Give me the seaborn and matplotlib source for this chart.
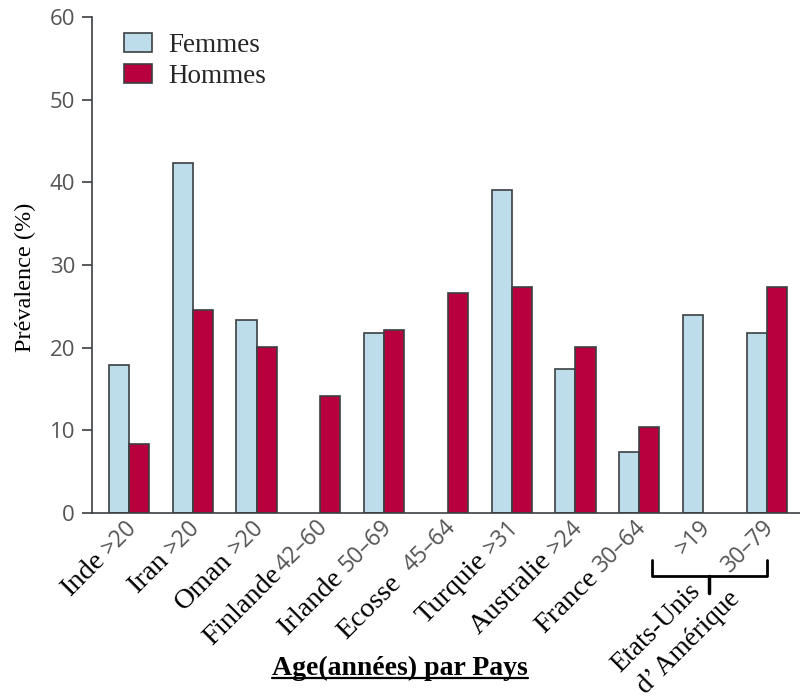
import numpy as np
import pandas as pd
import matplotlib
matplotlib.use("Agg")
import matplotlib.pyplot as plt
import seaborn as sns
from matplotlib.lines import Line2D
from matplotlib.patches import Patch

# ---------------- data ----------------
categories = ['Inde', 'Iran', 'Oman', 'Finlande', 'Irlande', 'Ecosse',
              'Turquie', 'Australie', 'France', 'USA_1', 'USA_2']
country_labels = ['Inde', 'Iran', 'Oman', 'Finlande', 'Irlande', 'Ecosse',
                  'Turquie', 'Australie', 'France', '', '']
age_labels = ['>20', '>20', '>20', '42–60', '50–69', '45–64',
              '>31', '>24', '30–64', '>19', '30–79']
femmes = [17.9, 42.3, 23.3, np.nan, 21.8, np.nan, 39.1, 17.4, 7.4, 24.0, 21.8]
hommes = [8.4, 24.6, 20.1, 14.2, 22.2, 26.6, 27.4, 20.1, 10.4, np.nan, 27.4]
series_names = ['Femmes', 'Hommes']
us_label = ['Etats-Unis', 'd\u2019 Amérique']
y_ticks = [0, 10, 20, 30, 40, 50, 60]
y_title = 'Prévalence (%)'
x_title = 'Age(années) par Pays'

# ---------------- style ----------------
C_F = '#BEDDEB'
C_H = '#B7003D'
EDGE = '#3B3F42'
GRAY = '#555555'
SERIF = 'Liberation Serif'
SANS = ['Liberation Sans Narrow', 'Open Sans', 'DejaVu Sans']

sns.set_theme(style='white')
plt.rcParams['font.family'] = ['DejaVu Sans']

df = pd.DataFrame({
    'cat': categories * 2,
    'val': femmes + hommes,
    'sexe': [series_names[0]] * len(categories) + [series_names[1]] * len(categories),
})

W, H, DPI = 8.0, 6.98, 100
fig = plt.figure(figsize=(W, H), dpi=DPI)
ax = fig.add_axes([0.1146, 0.265, 1.0 - 0.1146, 0.9756 - 0.265])

sns.barplot(data=df, x='cat', y='val', hue='sexe', order=categories,
            hue_order=series_names, palette=[C_F, C_H], width=0.63,
            edgecolor=EDGE, linewidth=1.2, saturation=1, ax=ax, legend=False,
            errorbar=None)

ax.set_xlim(-0.585, 10.52)
ax.set_ylim(0, 60)
ax.set_yticks(y_ticks)
ax.set_yticklabels([str(t) for t in y_ticks], fontfamily=SANS, fontsize=16, color=GRAY)
ax.tick_params(axis='y', which='both', left=True, direction='out', length=7,
               width=1.2, color=EDGE, pad=5)
ax.set_xticks([])
ax.set_xlabel('')
ax.set_ylabel(y_title, fontfamily=SERIF, fontsize=17.5, color='black')
ax.yaxis.set_label_coords(-0.079, 0.475)
for s in ['top', 'right']:
    ax.spines[s].set_visible(False)
for s in ['left', 'bottom']:
    ax.spines[s].set_color(EDGE)
    ax.spines[s].set_linewidth(1.2)

# legend
handles = [Patch(facecolor=C_F, edgecolor=EDGE, linewidth=1.2),
           Patch(facecolor=C_H, edgecolor=EDGE, linewidth=1.2)]
ax.legend(handles, series_names, loc='upper left', bbox_to_anchor=(0.03, 0.99),
          frameon=False, prop={'family': SERIF, 'size': 19.5},
          handlelength=1.05, handleheight=0.68, handletextpad=0.6,
          labelspacing=0.22, borderaxespad=0)

# ---------------- x labels (mixed fonts, rotated) ----------------
fig.canvas.draw()
r = fig.canvas.get_renderer()
c45 = np.cos(np.radians(45))
gaps = [6, 6, 6, 2, 6, 14, 6, 6, 6, 6, 6]
AGE_FS = 16.5
CTRY_FS = 20.5

def to_fig(px, py):
    return px / (W * DPI), py / (H * DPI)

for i, (ctry, age) in enumerate(zip(country_labels, age_labels)):
    x0, y0 = ax.transData.transform((i, 0))
    ax_px, ay_px = x0 + 4, y0 - 11
    fx, fy = to_fig(ax_px, ay_px)
    fig.text(fx, fy, age, rotation=45, rotation_mode='anchor', ha='right',
             va='center', fontfamily=SANS, fontsize=AGE_FS, color=GRAY)
    if ctry:
        tmp = fig.text(0, 0, age, fontfamily=SANS, fontsize=AGE_FS)
        w = tmp.get_window_extent(r).width
        tmp.remove()
        d = w + gaps[i]
        cx, cy = ax_px - d * c45, ay_px - d * c45
        fx, fy = to_fig(cx, cy - 1)
        fig.text(fx, fy, ctry, rotation=45, rotation_mode='anchor', ha='right',
                 va='center', fontfamily=SERIF, fontsize=CTRY_FS, color='black')

# brace for USA
xl, _ = ax.transData.transform((8.2, 0))
xr, y0 = ax.transData.transform((10.0, 0))
xm = (xl + xr) / 2
yt, yb, ytip = y0 - 47, y0 - 63, y0 - 80
pts = [(xl, yt), (xl, yb), (xr, yb), (xr, yt)]
xs, ys = zip(*[to_fig(*p) for p in pts])
fig.add_artist(Line2D(xs, ys, color='black', lw=2.0, solid_joinstyle='round',
                      transform=fig.transFigure))
mx, my = to_fig(xm, yb)
tx, ty = to_fig(xm, ytip)
fig.add_artist(Line2D([mx, tx], [my, ty], color='black', lw=2.5,
                      transform=fig.transFigure))
fx, fy = to_fig(xm - 53, ytip - 35)
fig.text(fx, fy, us_label[0], rotation=45, rotation_mode='anchor', ha='center',
         va='center', fontfamily=SERIF, fontsize=19.5, color='black')
fx, fy = to_fig(xm - 21, ytip - 50)
fig.text(fx, fy, us_label[1], rotation=45, rotation_mode='anchor', ha='center',
         va='center', fontfamily=SERIF, fontsize=19.5, color='black')

# x title with underline
tt = fig.text(0.5, 1 - 668 / (H * DPI), x_title, ha='center', va='center',
              fontfamily=SERIF, fontweight='bold', fontsize=20, color='black')
fig.canvas.draw()
bb = tt.get_window_extent(r)
uy = bb.y0 + 3
fig.add_artist(Line2D([bb.x0 / (W * DPI), bb.x1 / (W * DPI)],
                      [uy / (H * DPI), uy / (H * DPI)], color='black', lw=1.6,
                      transform=fig.transFigure))

fig.savefig('out.png', dpi=DPI)
